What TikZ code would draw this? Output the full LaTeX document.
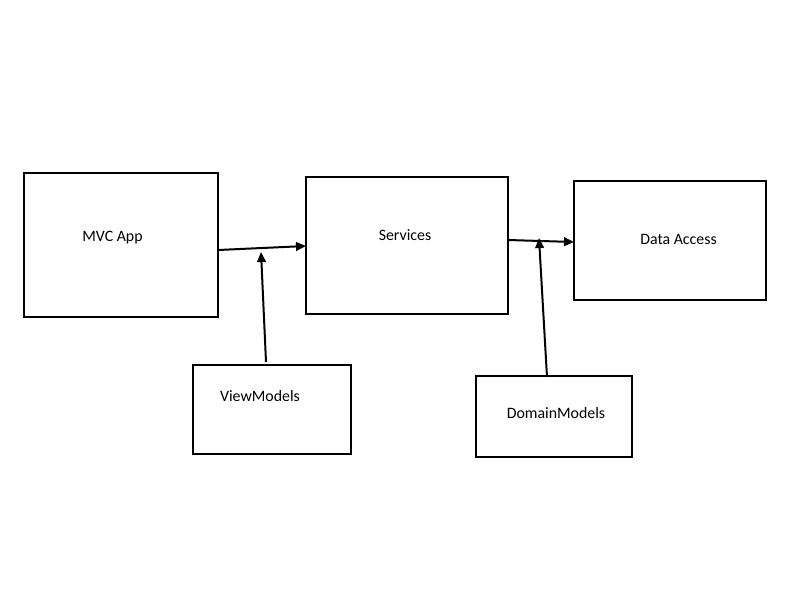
\documentclass[tikz,border=0pt]{standalone}
\usepackage{fontspec}
\setmainfont{Carlito}
\usetikzlibrary{arrows.meta}
\begin{document}
\begin{tikzpicture}[x=0.75pt,y=-0.75pt,
  box/.style={draw=black,line width=1.5pt},
  lbl/.style={font=\fontsize{11.9}{14}\selectfont,inner sep=0pt},
  conn/.style={line width=1.5pt,-{Triangle[length=7.5pt,width=6.5pt]}}]
\path[use as bounding box,fill=white] (0,0) rectangle (800,600);
\draw[box] (24,173) rectangle (218,317);
\draw[box] (306,177) rectangle (508,314);
\draw[box] (574,181) rectangle (766,300);
\draw[box] (193,365) rectangle (351,454);
\draw[box] (476,376) rectangle (632,457);
\node[lbl] (mvc) at (112.5,238) {MVC App};
\node[lbl] (svc) at (405,235) {Services};
\node[lbl] (da) at (678.5,239) {Data Access};
\node[lbl] (vm) at (260,396) {ViewModels};
\node[lbl] (dm) at (556,413) {DomainModels};
\coordinate (a1s) at (218,250);
\coordinate (a1e) at (306,246);
\coordinate (a2s) at (508,240);
\coordinate (a2e) at (574,242);
\coordinate (v1s) at (266,362);
\coordinate (v1e) at (261,252);
\coordinate (v2s) at (547,377);
\coordinate (v2e) at (539,238);
\draw[conn] (a1s) -- (a1e);
\draw[conn] (a2s) -- (a2e);
\draw[conn] (v1s) -- (v1e);
\draw[conn] (v2s) -- (v2e);
\end{tikzpicture}
\end{document}
